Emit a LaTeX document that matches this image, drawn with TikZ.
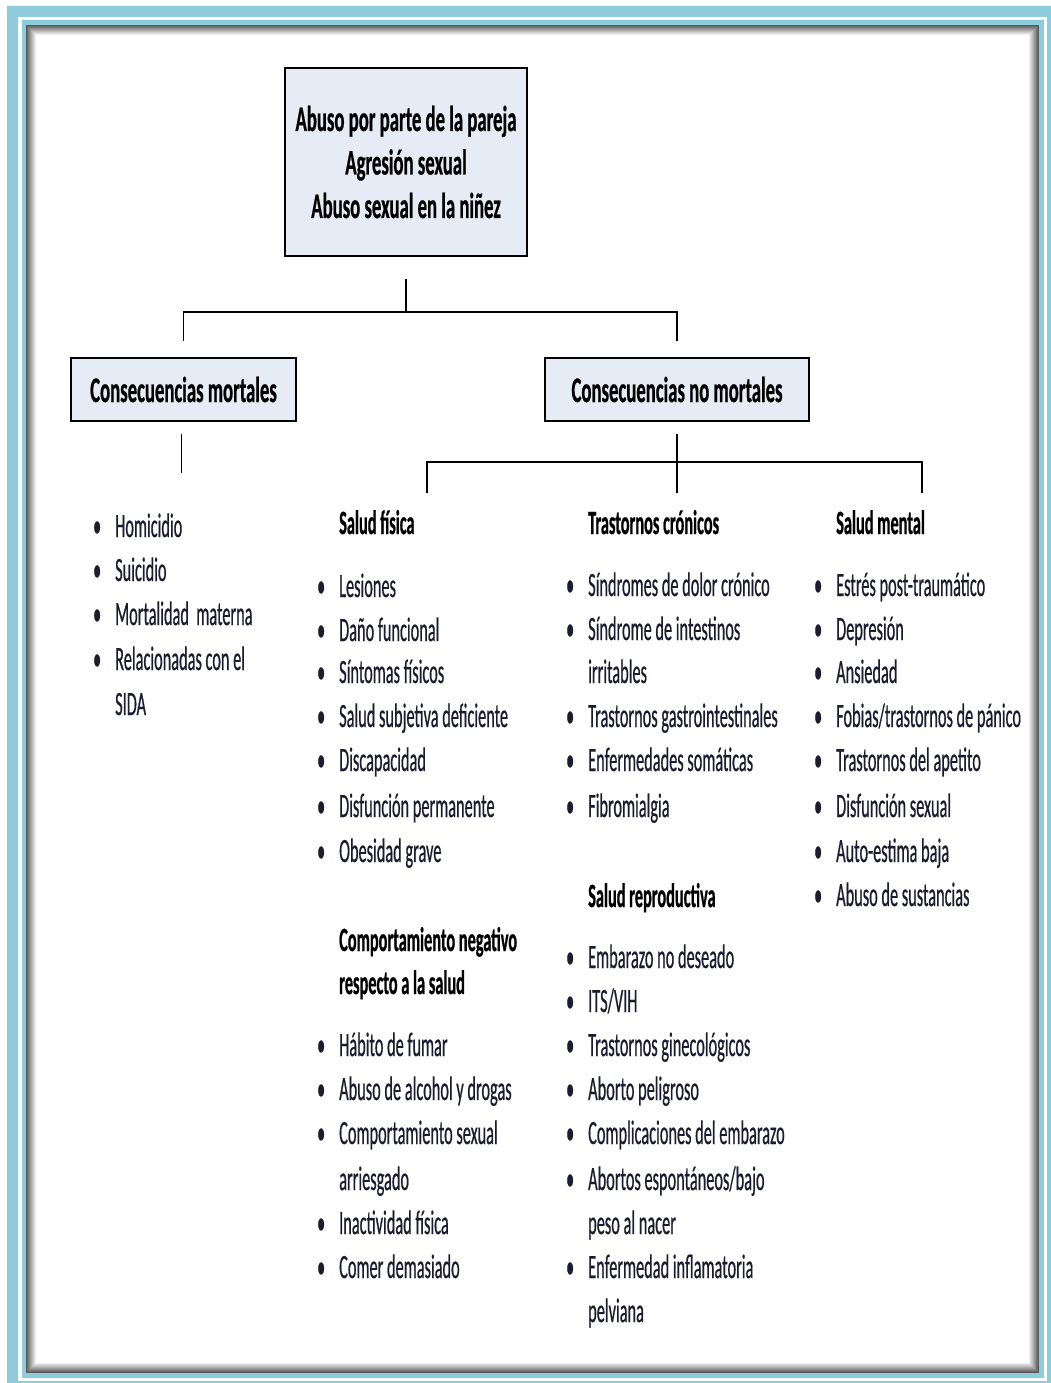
\documentclass[tikz,border=0pt]{standalone}
\usepackage{fontspec}
\newfontfamily\cf[FakeStretch=0.48, FakeBold=0.5, BoldFeatures={FakeBold=0.6}]{Carlito}
\newfontfamily\cfb[FakeStretch=0.52, FakeBold=0.6, BoldFeatures={FakeBold=0.6}]{Carlito}
\definecolor{frameblue}{RGB}{142,204,220}
\definecolor{boxfill}{RGB}{230,236,245}
\definecolor{textc}{RGB}{28,28,48}
\newcommand\bl{\llap{\textbullet\hspace{14pt}}}
\tikzset{
  txt/.style={anchor=base west, inner sep=0pt, text=textc, font=\cf\fontsize{34}{44}\selectfont},
  hd/.style={anchor=base west, inner sep=0pt, text=black, font=\cf\bfseries\fontsize{34}{44}\selectfont},
  topbox/.style={draw=black, line width=2pt, fill=boxfill, inner sep=0pt, align=center,
     font=\cfb\bfseries\fontsize{36}{43.5}\selectfont},
  conn/.style={draw=black, line width=1.6pt}
}
\begin{document}
\begin{tikzpicture}[x=1pt,y=-1pt]
\useasboundingbox (0,0) rectangle (1050,1383);
\fill[white] (0,0) rectangle (1050,1383);
% outer light blue frame
\fill[frameblue, even odd rule] (7,6) rectangle (1060,1395) (18,17) rectangle (1047,1381);
\fill[frameblue, even odd rule] (22,20) rectangle (1044,1378) (26,25) rectangle (1039,1373);
% inner grey shadowed frame
\foreach \i in {0,...,9}{
  \pgfmathsetmacro\g{65*(1-\i/10)}
  \draw[black!\g, line width=1pt] (26.5+\i,25.5+\i) rectangle (1038.5-\i,1372.5-\i);
}
% boxes
\node[topbox, minimum width=242pt, minimum height=188pt] (top) at (406,162)
  {Abuso por parte de la pareja\\Agresión sexual\\Abuso sexual en la niñez};
\node[topbox, minimum width=225pt, minimum height=63pt] (mort) at (183.5,389.5) {Consecuencias mortales};
\node[topbox, minimum width=264pt, minimum height=63pt] (nomort) at (677,389.5) {Consecuencias no mortales};
% connectors
\coordinate (bar1) at (406,312);
\coordinate (bar2) at (677,462);
\coordinate (mortend) at (181.5,473);
\coordinate (sfend) at (427,493);
\coordinate (tcend) at (677,493);
\coordinate (smend) at (922,493);
\draw[conn] ([yshift=-22pt]top.south) -- (bar1);
\draw[conn] ([yshift=16pt]mort.north) |- (bar1) -| ([yshift=16pt]nomort.north);
\draw[conn] ([yshift=-12pt,xshift=-2pt]mort.south) -- (mortend);
\draw[conn] ([yshift=-12pt]nomort.south) -- (tcend);
\draw[conn] (sfend) |- (bar2) -| (smend);
% left column
\node[txt] (l1) at (115,537) {\bl Homicidio};
\node[txt] (l2) at (115,581) {\bl Suicidio};
\node[txt] (l3) at (115,625) {\bl Mortalidad\ \ materna};
\node[txt] (l4) at (115,670) {\bl Relacionadas con el};
\node[txt] (l4b) at (115,715) {SIDA};
% salud fisica
\node[hd] (sf) at (339,534) {Salud física};
\node[txt] (sf1) at (339,597) {\bl Lesiones};
\node[txt] (sf2) at (339,641) {\bl Daño funcional};
\node[txt] (sf3) at (339,683) {\bl Síntomas físicos};
\node[txt] (sf4) at (339,727) {\bl Salud subjetiva deficiente};
\node[txt] (sf5) at (339,771) {\bl Discapacidad};
\node[txt] (sf6) at (339,817) {\bl Disfunción permanente};
\node[txt] (sf7) at (339,862) {\bl Obesidad grave};
\node[hd] (cn) at (339,951) {Comportamiento negativo};
\node[hd] (cnb) at (339,994) {respecto a la salud};
\node[txt] (cn1) at (339,1056) {\bl Hábito de fumar};
\node[txt] (cn2) at (339,1100) {\bl Abuso de alcohol y drogas};
\node[txt] (cn3) at (339,1144) {\bl Comportamiento sexual};
\node[txt] (cn3b) at (339,1190) {arriesgado};
\node[txt] (cn4) at (339,1234) {\bl Inactividad física};
\node[txt] (cn5) at (339,1278) {\bl Comer demasiado};
% trastornos cronicos
\node[hd] (tc) at (588,534) {Trastornos crónicos};
\node[txt] (tc1) at (588,596) {\bl Síndromes de dolor crónico};
\node[txt] (tc2) at (588,640) {\bl Síndrome de intestinos};
\node[txt] (tc2b) at (588,683) {irritables};
\node[txt] (tc3) at (588,727) {\bl Trastornos gastrointestinales};
\node[txt] (tc4) at (588,771) {\bl Enfermedades somáticas};
\node[txt] (tc5) at (588,817) {\bl Fibromialgia};
\node[hd] (sr) at (588,907) {Salud reproductiva};
\node[txt] (sr1) at (588,968) {\bl Embarazo no deseado};
\node[txt] (sr2) at (588,1012) {\bl ITS/VIH};
\node[txt] (sr3) at (588,1056) {\bl Trastornos ginecológicos};
\node[txt] (sr4) at (588,1100) {\bl Aborto peligroso};
\node[txt] (sr5) at (588,1144) {\bl Complicaciones del embarazo};
\node[txt] (sr6) at (588,1190) {\bl Abortos espontáneos/bajo};
\node[txt] (sr6b) at (588,1234) {peso al nacer};
\node[txt] (sr7) at (588,1278) {\bl Enfermedad inflamatoria};
\node[txt] (sr7b) at (588,1322) {pelviana};
% salud mental
\node[hd] (sm) at (836,534) {Salud mental};
\node[txt] (sm1) at (836,596) {\bl Estrés post-traumático};
\node[txt] (sm2) at (836,640) {\bl Depresión};
\node[txt] (sm3) at (836,683) {\bl Ansiedad};
\node[txt] (sm4) at (836,727) {\bl Fobias/trastornos de pánico};
\node[txt] (sm5) at (836,771) {\bl Trastornos del apetito};
\node[txt] (sm6) at (836,817) {\bl Disfunción sexual};
\node[txt] (sm7) at (836,862) {\bl Auto-estima baja};
\node[txt] (sm8) at (836,906) {\bl Abuso de sustancias};
\end{tikzpicture}
\end{document}
